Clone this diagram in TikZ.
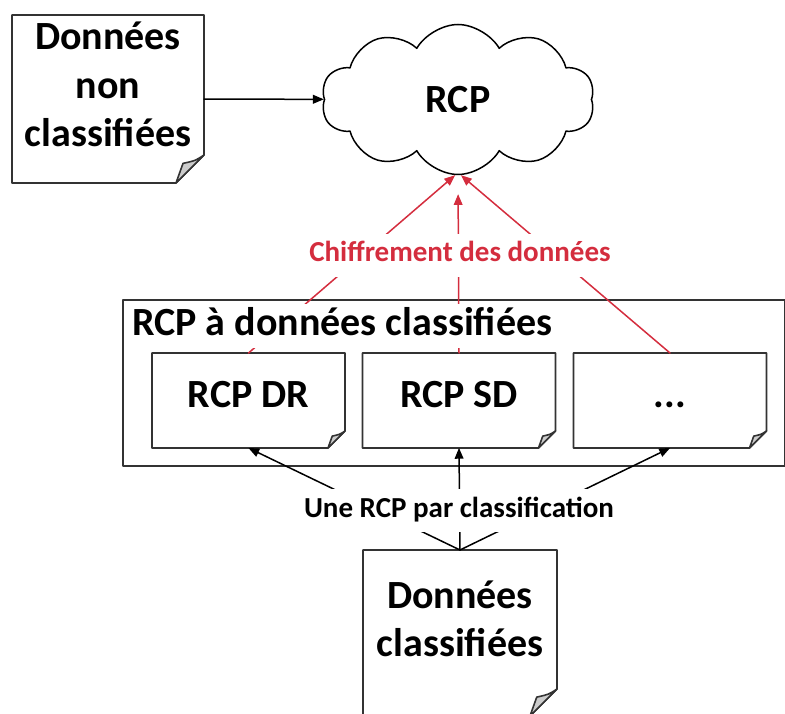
\documentclass[tikz,border=0pt]{standalone}
\usepackage{fontspec}
\setmainfont{Carlito}
\usetikzlibrary{arrows,shapes.symbols}

\definecolor{chiffre}{RGB}{212,45,62}

% document outline with a folded corner, #1 node, #2 fold size
\newcommand{\docoutline}[2]{%
\draw [boxline] (#1.north west)-- (#1.north east)-- ([yshift=#2]#1.south east)-- ([xshift=-#2]#1.south east)-- (#1.south west)-- cycle;
\draw [boxline,fill=gray!40] ([xshift=-#2]#1.south east)-- ([xshift=-0.75*#2,yshift=0.7*#2]#1.south east) .. controls ([xshift=-0.3*#2,yshift=0.8*#2]#1.south east) .. ([yshift=#2]#1.south east)-- cycle;}

\begin{document}
\begin{tikzpicture}[line cap=round,line join=round,>=triangle 45,x=1pt,y=-1pt,
  boxline/.style={line width=1.6pt,draw=black!80},
  conn/.style={line width=1.5pt},
  docbox/.style={inner sep=0pt,outer sep=0pt},
  big/.style={font=\fontsize{40}{48.5}\selectfont\bfseries,align=center,inner sep=0pt},
  lbl/.style={font=\fontsize{29}{35}\selectfont\bfseries,fill=white,inner xsep=4pt,inner ysep=8pt,text depth=7pt},
  rcpbox/.style={docbox,big,minimum width=193pt,minimum height=95pt,text height=26pt,text depth=12pt},
  cloudshape/.style={cloud,draw,line width=1.5pt,cloud puffs=10,cloud puff arc=120,aspect=2,
    minimum width=273pt,minimum height=150pt,inner sep=0pt,font=\fontsize{40}{48}\selectfont\bfseries}]
\useasboundingbox (0,0) rectangle (785,714);
% documents
\node [docbox,minimum width=192pt,minimum height=168pt] (doc1) at (108,99) {};
\docoutline{doc1}{28pt}
\node [big,anchor=south] (doc1txt) at (108,147) {Données\\non\\classifiées};
\node [docbox,minimum width=194pt,minimum height=166pt] (doc2) at (460,633) {};
\docoutline{doc2}{27pt}
\node [big,anchor=south] (doc2txt) at (460,657) {Données\\classifiées};
\node [cloudshape] (cloud) at (458,99.5) {RCP};
% classified RCPs
\node [boxline,draw,minimum width=662pt,minimum height=166pt,inner sep=0pt] (groupe) at (454,383) {};
\node [rcpbox] (rcpdr) at (248.5,400.5) {RCP DR};
\docoutline{rcpdr}{17pt}
\node [rcpbox] (rcpsd) at (459,400.5) {RCP SD};
\docoutline{rcpsd}{17pt}
\node [rcpbox] (rcpautre) at (670,400.5) {...};
\docoutline{rcpautre}{17pt}
% connectors
\draw [->,conn] (doc1)-- (cloud);
\draw [->,conn,chiffre] (rcpdr.north)-- ([xshift=-3pt]cloud.south);
\draw [->,conn,chiffre,shorten >=19pt] (rcpsd.north)-- (cloud.south);
\draw [->,conn,chiffre] (rcpautre.north)-- ([xshift=3pt]cloud.south);
\draw [->,conn] (doc2.north)-- (rcpdr.south);
\draw [->,conn] (doc2.north)-- (rcpsd.south);
\draw [->,conn] (doc2.north)-- (rcpautre.south);
% labels
\node [big,anchor=base west,fill=white,inner sep=3pt,text depth=10pt] (titre) at (129,335) {RCP à données classifiées};
\node [lbl,text=chiffre,anchor=base] (chiffrement) at (460,262) {Chiffrement des données};
\node [lbl,anchor=base] (parclass) at (459,517) {Une RCP par classification};
\end{tikzpicture}
\end{document}
